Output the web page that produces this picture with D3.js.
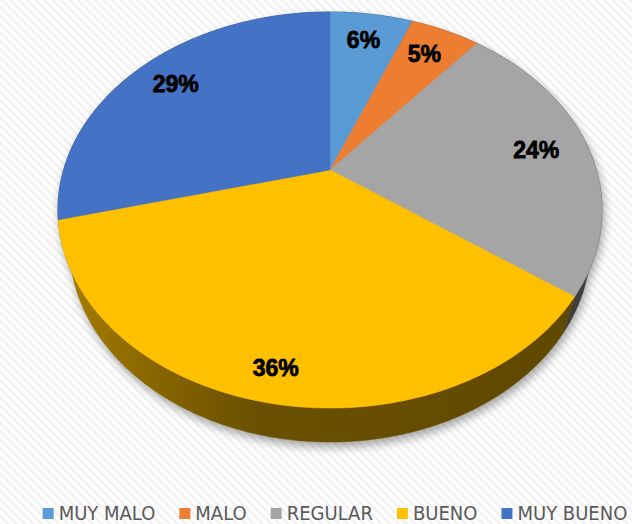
<!DOCTYPE html>
<html>
<head>
<meta charset="utf-8">
<script src="https://cdn.jsdelivr.net/npm/d3@7"></script>
<style>
  body { margin: 0; background: #fff; }
</style>
</head>
<body>
<div id="chart"></div>
<script>
const categories = ["MUY MALO", "MALO", "REGULAR", "BUENO", "MUY BUENO"];
const percents = [6, 5, 24, 36, 29];
const colors = ["#5b9bd5", "#ed7d31", "#a5a5a5", "#ffc000", "#4472c4"];

const width = 632, height = 524;

// perspective camera for the tilted disk (radius 1)
const cam = { x0: 330, y0: 170, F: 924.6, D: 3.47, sin: 0.713, cos: 0.701 };
const thick = 0.207;

function proj(u, v, w) {
    const Yc = v * cam.sin - w * cam.cos;
    const Zc = cam.D - v * cam.cos - w * cam.sin;
    return [cam.x0 + cam.F * u / Zc, cam.y0 + cam.F * Yc / Zc];
}
// angle clockwise from 12 o'clock, r in [0,1]
function rim(a, r, w) {
    return proj(r * Math.sin(a), -r * Math.cos(a), w);
}
function arcPts(a0, a1, w) {
    const n = Math.max(2, Math.ceil((a1 - a0) * 60));
    return d3.range(n + 1).map(i => rim(a0 + (a1 - a0) * i / n, 1, w));
}

const svg = d3.select("#chart").append("svg")
    .attr("width", width)
    .attr("height", height);

const defs = svg.append("defs");

// faint diagonal stripes in the background
const pat = defs.append("pattern")
    .attr("id", "stripes")
    .attr("patternUnits", "userSpaceOnUse")
    .attr("width", 6).attr("height", 6)
    .attr("patternTransform", "rotate(-45)");
pat.append("rect").attr("width", 6).attr("height", 6).attr("fill", "#ffffff");
pat.append("rect").attr("width", 2.5).attr("height", 6).attr("fill", "#f1f1f1");

svg.append("rect").attr("width", width).attr("height", height).attr("fill", "url(#stripes)");

defs.append("filter")
    .attr("id", "blur")
    .attr("x", "-20%").attr("y", "-20%").attr("width", "140%").attr("height", "140%")
    .append("feGaussianBlur").attr("stdDeviation", 5);

const pie = d3.pie().sort(null).value(d => d)(percents);

// side gradient for each slice
const shade = (c, f) => { const k = d3.rgb(c); return d3.rgb(k.r * f, k.g * f, k.b * f).formatHex(); };
colors.forEach((c, i) => {
    const g = defs.append("linearGradient")
        .attr("id", "side" + i)
        .attr("gradientUnits", "userSpaceOnUse")
        .attr("x1", 58).attr("x2", 602).attr("y1", 0).attr("y2", 0);
    [[0, 0.66], [0.03, 0.64], [0.19, 0.52], [0.35, 0.42], [1, 0.37]].forEach(([o, f]) => {
        g.append("stop").attr("offset", o).attr("stop-color", shade(c, f));
    });
});

const line = d3.line();
const topPath = d => line([proj(0, 0, 0), ...arcPts(d.startAngle, d.endAngle, 0)]) + "Z";
const sidePath = d => line([...arcPts(d.startAngle, d.endAngle, 0), ...arcPts(d.startAngle, d.endAngle, -thick).reverse()]) + "Z";

// soft shadow
const shadow = svg.append("g")
    .attr("transform", "translate(2,5)")
    .attr("filter", "url(#blur)")
    .attr("opacity", 0.35);
shadow.selectAll("path.s").data(pie).join("path").attr("d", sidePath).attr("fill", "#000");
shadow.selectAll("path.t").data(pie).join("path").attr("d", topPath).attr("fill", "#000");

// walls
svg.append("g").selectAll("path")
    .data(pie)
    .join("path")
    .attr("d", sidePath)
    .attr("fill", (d, i) => `url(#side${i})`)
    .attr("stroke", (d, i) => `url(#side${i})`)
    .attr("stroke-width", 0.5);

// top faces
svg.append("g").selectAll("path")
    .data(pie)
    .join("path")
    .attr("d", topPath)
    .attr("fill", (d, i) => colors[i])
    .attr("stroke", (d, i) => colors[i])
    .attr("stroke-width", 0.5);

// data labels
svg.append("g").selectAll("text")
    .data(pie)
    .join("text")
    .attr("transform", (d, i) => {
        const r = i === 3 ? 0.88 : 0.8;
        const p = rim((d.startAngle + d.endAngle) / 2, r, 0);
        return `translate(${p[0] - 1},${p[1] - 1})`;
    })
    .attr("text-anchor", "middle")
    .attr("dominant-baseline", "central")
    .style("font-family", "'Liberation Sans', Arial, sans-serif")
    .style("font-weight", "bold")
    .style("font-size", "23px")
    .attr("fill", "#000")
    .attr("stroke", "#000")
    .attr("stroke-width", 0.8)
    .text(d => d.data + "%");

// legend
const legend = svg.append("g");
const items = legend.selectAll("g")
    .data(categories)
    .join("g");
items.append("rect")
    .attr("width", 11).attr("height", 11)
    .attr("y", -11)
    .attr("fill", (d, i) => colors[i]);
items.append("text")
    .attr("x", 16)
    .attr("y", 1)
    .style("font-family", "'DejaVu Sans Condensed', 'DejaVu Sans', sans-serif")
    .style("font-size", "20px")
    .attr("fill", "#595959")
    .text(d => d);

let xpos = 0;
items.each(function() {
    const w = 16 + d3.select(this).select("text").node().getComputedTextLength();
    d3.select(this).attr("transform", `translate(${xpos},0)`);
    xpos += w + 24;
});
const total = xpos - 24;
legend.attr("transform", `translate(${335 - total / 2},519)`);
</script>
</body>
</html>
